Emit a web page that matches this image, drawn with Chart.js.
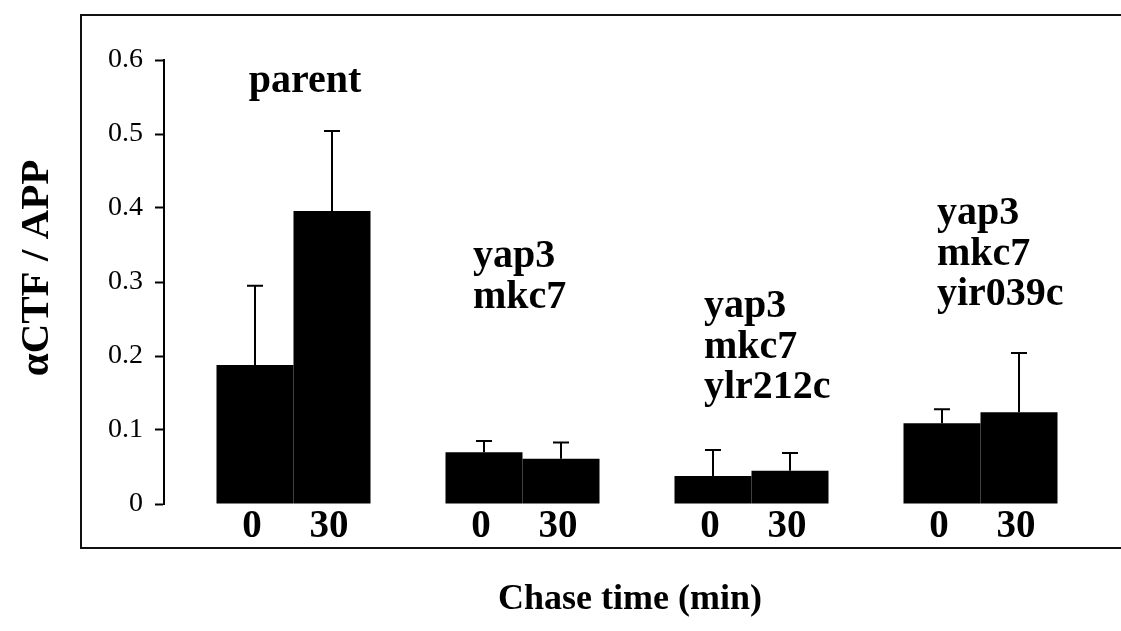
<!DOCTYPE html>
<html>
<head>
<meta charset="utf-8">
<script src="https://cdn.jsdelivr.net/npm/chart.js@4/dist/chart.umd.min.js"></script>
<style>
  html, body { margin: 0; padding: 0; background: #fff; }
  #wrap { width: 1121px; height: 631px; position: relative; }
</style>
</head>
<body>
<div id="wrap"><canvas id="chaseChart"></canvas></div>
<script>
// Datos del gráfico
const groups = ['parent', 'yap3 mkc7', 'yap3 mkc7 ylr212c', 'yap3 mkc7 yir039c'];
const groupLines = [
    ['parent'],
    ['yap3', 'mkc7'],
    ['yap3', 'mkc7', 'ylr212c'],
    ['yap3', 'mkc7', 'yir039c']
];
const chaseLabels = ['0', '30'];
const ratio0 = [0.188, 0.070, 0.038, 0.109];
const ratio30 = [0.396, 0.061, 0.045, 0.124];
const err0 = [0.107, 0.015, 0.035, 0.019];
const err30 = [0.108, 0.022, 0.024, 0.080];
const yTicks = [0, 0.1, 0.2, 0.3, 0.4, 0.5, 0.6];

// Posición de las etiquetas de grupo (x, centro de la primera línea, alineación)
const labelPos = [
    { x: 305, y: 82, align: 'center' },
    { x: 473, y: 257, align: 'left' },
    { x: 704, y: 307, align: 'left' },
    { x: 937, y: 214, align: 'left' }
];

const serif = '"Liberation Serif", "Times New Roman", serif';
const toPoints = (arr) => arr.map((v, i) => ({ x: i, y: v }));

// Marco del gráfico
const framePlugin = {
    id: 'frame',
    beforeDraw(chart) {
        const ctx = chart.ctx;
        ctx.save();
        ctx.strokeStyle = '#111';
        ctx.lineWidth = 2;
        ctx.beginPath();
        ctx.moveTo(1125, 15);
        ctx.lineTo(81, 15);
        ctx.lineTo(81, 548);
        ctx.lineTo(1125, 548);
        ctx.stroke();
        ctx.restore();
    }
};

// Barras de error (solo hacia arriba)
const errorBarsPlugin = {
    id: 'errorBars',
    afterDatasetsDraw(chart) {
        const ctx = chart.ctx;
        const y = chart.scales.y;
        ctx.save();
        ctx.strokeStyle = '#000';
        ctx.lineWidth = 2;
        chart.data.datasets.forEach((ds, d) => {
            const meta = chart.getDatasetMeta(d);
            meta.data.forEach((bar, i) => {
                const top = y.getPixelForValue(ds.data[i].y + ds.errors[i]);
                ctx.beginPath();
                ctx.moveTo(bar.x, bar.y);
                ctx.lineTo(bar.x, top);
                ctx.moveTo(bar.x - 8, top);
                ctx.lineTo(bar.x + 8, top);
                ctx.stroke();
            });
        });
        ctx.restore();
    }
};

// Textos: etiquetas de grupo, tiempos y títulos
const textPlugin = {
    id: 'texts',
    afterDraw(chart) {
        const ctx = chart.ctx;
        ctx.save();
        ctx.fillStyle = '#000';
        ctx.textBaseline = 'middle';

        // Tiempos bajo cada barra
        ctx.font = 'bold 39px ' + serif;
        ctx.textAlign = 'center';
        chart.data.datasets.forEach((ds, d) => {
            chart.getDatasetMeta(d).data.forEach(bar => {
                ctx.fillText(chaseLabels[d], bar.x - 3, 527);
            });
        });

        // Nombres de las cepas
        ctx.font = 'bold 40px ' + serif;
        groupLines.forEach((lines, i) => {
            const p = labelPos[i];
            ctx.textAlign = p.align;
            lines.forEach((line, k) => {
                ctx.fillText(line, p.x, p.y + k * 40.5);
            });
        });

        // Título eje X
        ctx.font = 'bold 36px ' + serif;
        ctx.textAlign = 'center';
        ctx.fillText('Chase time (min)', 630, 600);

        // Título eje Y
        ctx.font = 'bold 41px ' + serif;
        ctx.translate(37, 268);
        ctx.rotate(-Math.PI / 2);
        ctx.fillText('\u03b1CTF / APP', 0, 0);
        ctx.restore();
    }
};

const ctx = document.getElementById('chaseChart');
new Chart(ctx, {
    type: 'bar',
    data: {
        datasets: [
            { label: chaseLabels[0], data: toPoints(ratio0), errors: err0, backgroundColor: '#000', borderWidth: 0 },
            { label: chaseLabels[1], data: toPoints(ratio30), errors: err30, backgroundColor: '#000', borderWidth: 0 }
        ]
    },
    options: {
        responsive: true,
        maintainAspectRatio: false,
        animation: false,
        datasets: {
            bar: { categoryPercentage: 0.6725, barPercentage: 1.0 }
        },
        layout: { padding: { left: 0, top: 60, right: 26, bottom: 127 } },
        plugins: {
            legend: { display: false },
            tooltip: { enabled: false }
        },
        scales: {
            x: {
                type: 'linear',
                display: false,
                offset: false,
                min: -0.5655,
                max: 3.5,
                afterBuildTicks: (scale) => { scale.ticks = groups.map((g, i) => ({ value: i })); }
            },
            y: {
                min: 0,
                max: 0.6,
                afterFit: (scale) => { scale.width = 164; },
                afterBuildTicks: (scale) => { scale.ticks = yTicks.map(v => ({ value: v })); },
                ticks: {
                    color: '#000',
                    padding: 12,
                    font: { family: serif, size: 28 },
                    callback: (v) => v === 0 ? '0' : v.toFixed(1)
                },
                grid: {
                    drawOnChartArea: false,
                    tickLength: 9,
                    tickWidth: 2,
                    color: '#000'
                },
                border: { color: '#000', width: 2 }
            }
        }
    },
    plugins: [framePlugin, errorBarsPlugin, textPlugin]
});
</script>
</body>
</html>
